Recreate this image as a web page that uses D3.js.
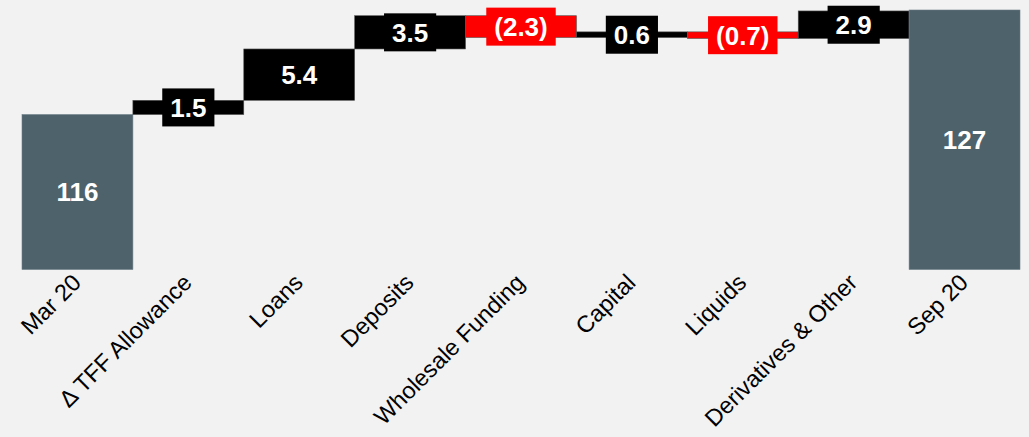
<!DOCTYPE html>
<html><head><meta charset="utf-8">
<script src="https://cdn.jsdelivr.net/npm/d3@7"></script>
<style>
html,body{margin:0;padding:0;background:#f2f2f2;}
svg{display:block;font-family:"Liberation Sans",Arial,Helvetica,sans-serif;}
</style></head>
<body>
<svg id="chart" width="1029" height="437"></svg>
<script>
const categories = ["Mar 20","Δ TFF Allowance","Loans","Deposits","Wholesale Funding","Capital","Liquids","Derivatives & Other","Sep 20"];
const values = [116, 1.5, 5.4, 3.5, -2.3, 0.6, -0.7, 2.9, 127];
const kinds = ["total","delta","delta","delta","delta","delta","delta","delta","total"];
const yDomain = [99.7, 127];

const W = 1029, H = 437;
const svg = d3.select("#chart");
svg.append("rect").attr("width", W).attr("height", H).attr("fill", "#f2f2f2");

const x = d3.scaleBand().domain(categories).range([22, 1020]).padding(0);
const y = d3.scaleLinear().domain(yDomain).range([269.5, 10]);

let running = 0;
const bars = categories.map((c, i) => {
  const v = values[i];
  let y0, y1;
  if (kinds[i] === "total") { y0 = yDomain[0]; y1 = v; running = v; }
  else { y0 = running; y1 = running + v; running = y1; }
  return {c, v, kind: kinds[i], lo: Math.min(y0, y1), hi: Math.max(y0, y1)};
});

const colorOf = d => d.kind === "total" ? "#4e626c" : (d.v < 0 ? "#ff0000" : "#000000");
const fmt = d => d.kind === "total" ? d3.format("d")(d.v) : (d.v < 0 ? "(" + d3.format(".1f")(-d.v) + ")" : d3.format(".1f")(d.v));

svg.append("g").selectAll("rect").data(bars).join("rect")
  .attr("x", d => x(d.c))
  .attr("width", x.bandwidth())
  .attr("y", d => y(d.hi))
  .attr("height", d => y(d.lo) - y(d.hi))
  .attr("fill", colorOf)
  .attr("stroke", d => d.kind === "total" ? "#6b7d86" : "#555")
  .attr("stroke-width", 0.6);

const fs = 26;
const lg = svg.append("g");
bars.forEach(d => {
  const cx = x(d.c) + x.bandwidth() / 2;
  const cy = (y(d.hi) + y(d.lo)) / 2;
  const g = lg.append("g");
  const t = g.append("text")
    .attr("x", cx).attr("y", cy)
    .attr("dy", "0.36em")
    .attr("text-anchor", "middle")
    .attr("font-size", fs).attr("font-weight", "bold")
    .attr("fill", "#fff")
    .text(fmt(d));
  if (d.kind !== "total") {
    const w = t.node().getComputedTextLength() + 16;
    const h = 38;
    g.insert("rect", "text")
      .attr("x", cx - w / 2).attr("y", cy - h / 2)
      .attr("width", w).attr("height", h)
      .attr("fill", colorOf(d));
  }
});

const ax = svg.append("g");
categories.forEach(c => {
  const cx = x(c) + x.bandwidth() / 2;
  ax.append("text")
    .attr("transform", `translate(${cx + 5},${284}) rotate(-45)`)
    .attr("text-anchor", "end")
    .attr("font-size", 23.5)
    .attr("fill", "#000")
    .text(c);
});
</script>
</body></html>
